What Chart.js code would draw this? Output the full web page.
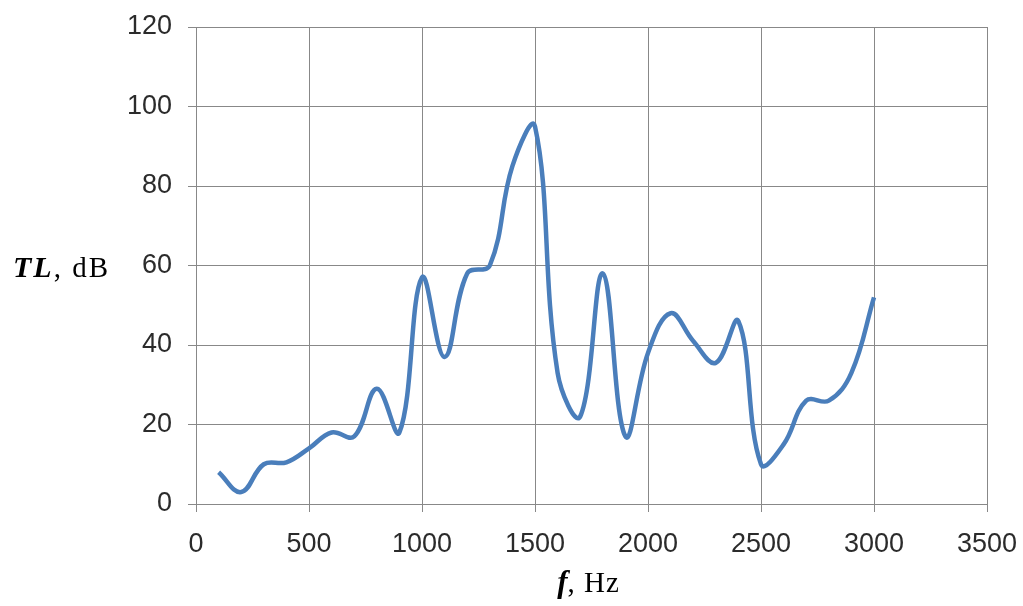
<!DOCTYPE html>
<html>
<head>
<meta charset="utf-8">
<script src="https://cdn.jsdelivr.net/npm/chart.js@4/dist/chart.umd.min.js"></script>
<style>
  html, body { margin: 0; padding: 0; background: #fff; }
  #wrap { width: 1023px; height: 606px; position: relative; }
</style>
</head>
<body>
<div id="wrap"><canvas id="tlCanvas"></canvas></div>
<script>
// frequency (Hz) and transmission loss (dB)
var freq = [100, 200, 300, 400, 500, 600, 700, 800, 900, 1000,
            1100, 1200, 1300, 1400, 1500, 1600, 1700, 1800, 1900, 2000,
            2100, 2200, 2300, 2400, 2500, 2600, 2700, 2800, 2900, 3000];
var loss = [8, 3, 10, 10.5, 14, 18, 17, 29, 18, 57,
            37, 58, 60, 85, 95, 33, 22, 58, 17, 38,
            48, 41, 35.5, 46, 10, 15, 26, 26, 33, 52];

var xTicks = [0, 500, 1000, 1500, 2000, 2500, 3000, 3500];
var yTicks = [0, 20, 40, 60, 80, 100, 120];

var points = freq.map(function (f, i) { return { x: f, y: loss[i] }; });

var gridColor = "#888888";
var tickFont = { family: "Liberation Sans", size: 27 };

// axis titles: italic bold symbol followed by plain unit, serif
var axisTitles = {
  id: "axisTitles",
  afterDraw: function (chart) {
    var ctx = chart.ctx;
    var area = chart.chartArea;
    ctx.save();
    ctx.fillStyle = "#000";
    ctx.textBaseline = "alphabetic";

    function rich(parts, x, y, align) {
      var total = 0;
      parts.forEach(function (p) {
        ctx.font = p.font; ctx.letterSpacing = p.gap;
        total += ctx.measureText(p.text).width;
      });
      var cx = align === "center" ? x - total / 2 : x;
      parts.forEach(function (p) {
        ctx.font = p.font; ctx.letterSpacing = p.gap;
        ctx.textAlign = "left";
        ctx.fillText(p.text, cx, y);
        cx += ctx.measureText(p.text).width;
      });
    }

    var yPos = chart.scales.y.getPixelForValue(60);
    rich([
      { text: "TL", font: "italic bold 30px 'Liberation Serif'", gap: "2px" },
      { text: ", dB", font: "29px 'Liberation Serif'", gap: "2px" }
    ], 13, yPos + 11, "left");

    rich([
      { text: "f", font: "italic bold 31px 'Liberation Serif'", gap: "0px" },
      { text: ", Hz", font: "29px 'Liberation Serif'", gap: "1px" }
    ], (area.left + area.right) / 2 - 3, 592, "center");
    ctx.restore();
  }
};

var chart = new Chart(document.getElementById("tlCanvas"), {
  type: "line",
  data: {
    datasets: [{
      data: points,
      borderColor: "#4A7EBB",
      borderWidth: 4.5,
      pointRadius: 0,
      tension: 0.4,
      fill: false
    }]
  },
  options: {
    responsive: true,
    maintainAspectRatio: false,
    animation: false,
    layout: { padding: { top: 27, right: 36, left: 0, bottom: 0 } },
    plugins: { legend: { display: false }, tooltip: { enabled: false } },
    scales: {
      x: {
        type: "linear",
        min: 0,
        max: 3500,
        afterBuildTicks: function (s) { s.ticks = xTicks.map(function (v) { return { value: v }; }); },
        afterFit: function (s) { s.height = 102; s.paddingLeft = 0; s.paddingRight = 0; },
        grid: { color: gridColor, tickColor: gridColor, tickLength: 8, lineWidth: 1 },
        border: { color: gridColor },
        ticks: {
          font: tickFont, color: "#2b2b2b", padding: 16, maxRotation: 0,
          callback: function (v) { return String(v); }
        }
      },
      y: {
        min: 0,
        max: 120,
        afterBuildTicks: function (s) { s.ticks = yTicks.map(function (v) { return { value: v }; }); },
        afterFit: function (s) { s.width = 196; s.paddingTop = 0; s.paddingBottom = 0; },
        grid: { color: gridColor, tickColor: gridColor, tickLength: 8, lineWidth: 1 },
        border: { color: gridColor },
        ticks: {
          font: tickFont, color: "#2b2b2b", padding: 16,
          callback: function (v) { return String(v); }
        }
      }
    }
  },
  plugins: [axisTitles]
});
</script>
</body>
</html>
